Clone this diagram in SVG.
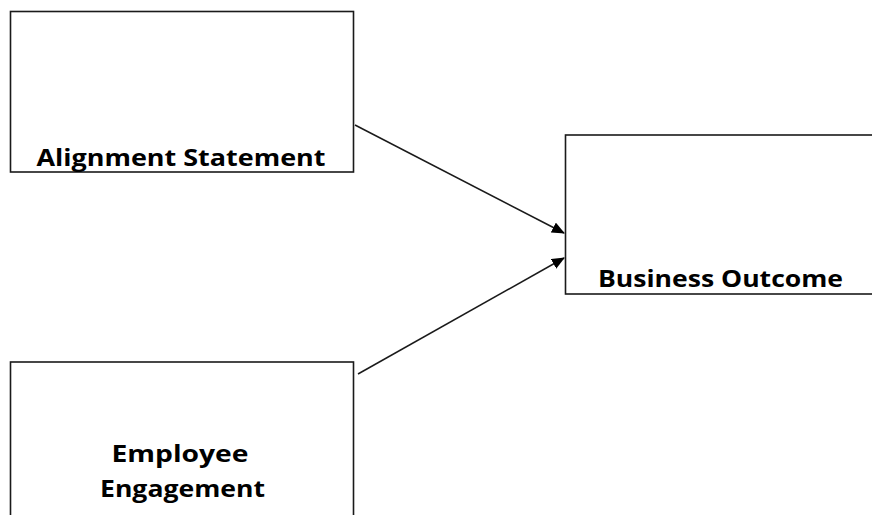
<svg xmlns="http://www.w3.org/2000/svg" width="872" height="515" viewBox="0 0 872 515">
<defs>
<style>
.box{fill:#fff;stroke:#1a1a1a;stroke-width:1.6}
.lbl{font-family:"Open Sans","DejaVu Sans",sans-serif;font-weight:700;font-size:24px;fill:#000;text-anchor:middle}
.conn{stroke:#1a1a1a;stroke-width:1.5;fill:none}
</style>
<marker id="arr" markerWidth="13" markerHeight="11" refX="12" refY="5.5" orient="auto" markerUnits="userSpaceOnUse" viewBox="0 0 13 11">
<path d="M0,0 L13,5.5 L0,11 z" fill="#000"/>
</marker>
</defs>
<rect width="872" height="515" fill="#fff"/>
<g id="alignment">
<rect class="box" x="10.5" y="11.5" width="343" height="160.5"/>
<text class="lbl" x="181" y="166" textLength="289" lengthAdjust="spacingAndGlyphs">Alignment Statement</text>
</g>
<g id="business">
<rect class="box" x="565.5" y="135" width="320" height="159"/>
<text class="lbl" x="720.5" y="287" textLength="245" lengthAdjust="spacingAndGlyphs">Business Outcome</text>
</g>
<g id="employee">
<rect class="box" x="10.5" y="362" width="343" height="170"/>
<text class="lbl" x="180" y="462" textLength="137" lengthAdjust="spacingAndGlyphs">Employee</text>
<text class="lbl" x="182.5" y="497" textLength="165" lengthAdjust="spacingAndGlyphs">Engagement</text>
</g>
<g id="connectors">
<line class="conn" x1="355" y1="125" x2="564" y2="233" marker-end="url(#arr)"/>
<line class="conn" x1="358" y1="374" x2="564" y2="258" marker-end="url(#arr)"/>
</g>
</svg>
